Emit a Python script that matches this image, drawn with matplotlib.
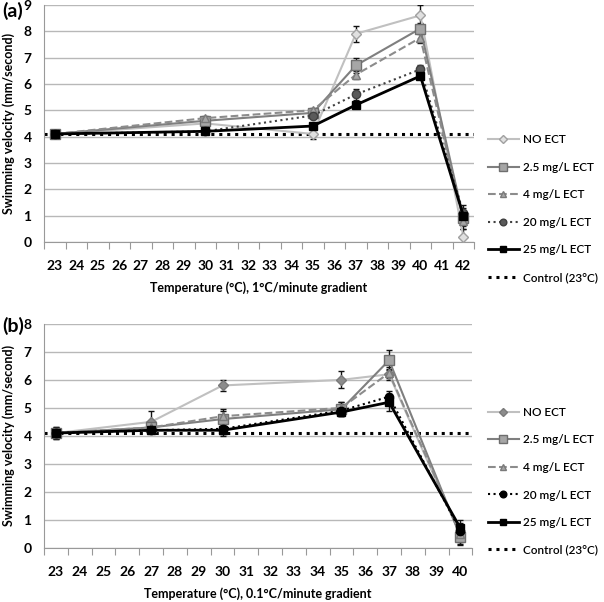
import numpy as np
import matplotlib
matplotlib.use("Agg")
import matplotlib.pyplot as plt

plt.rcParams['font.family'] = ['Lato', 'DejaVu Sans']

# ---------------- data ----------------
CATS_A = list(range(23, 43))
TEMPS_A = [23, 30, 35, 37, 40, 42]
NO_ECT_A = [4.1, 4.5, 4.1, 7.9, 8.6, 0.2]
ECT25_A = [4.1, 4.6, 4.9, 6.7, 8.1, 0.9]
ECT4_A = [4.1, 4.7, 5.0, 6.35, 7.75, 0.8]
ECT20_A = [4.1, 4.2, 4.8, 5.6, 6.55, 1.1]
ECT250_A = [4.1, 4.2, 4.4, 5.2, 6.3, 1.0]
ERR_NO_A = [0.08, 0.1, 0.2, 0.3, 0.4, 0.3]
ERR_25_A = [0.08, 0.1, 0.15, 0.3, 0.2, 0.3]
ERR_4_A = [0.05, 0.08, 0.1, 0.15, 0.2, 0.3]
ERR_20_A = [0.05, 0.08, 0.1, 0.2, 0.15, 0.3]
ERR_250_A = [0.05, 0.08, 0.1, 0.1, 0.1, 0.3]
CONTROL_A = 4.1

CATS_B = list(range(23, 41))
TEMPS_B = [23, 27, 30, 35, 37, 40]
NO_ECT_B = [4.1, 4.5, 5.8, 6.0, 6.2, 0.45]
ECT25_B = [4.1, 4.3, 4.6, 4.95, 6.7, 0.4]
ECT4_B = [4.1, 4.3, 4.7, 5.0, 6.25, 0.5]
ECT20_B = [4.1, 4.2, 4.25, 4.9, 5.4, 0.6]
ECT250_B = [4.1, 4.2, 4.2, 4.85, 5.2, 0.7]
ERR_NO_B = [0.2, 0.4, 0.2, 0.3, 0.2, 0.3]
ERR_25_B = [0.2, 0.1, 0.3, 0.25, 0.35, 0.3]
ERR_4_B = [0.1, 0.1, 0.25, 0.2, 0.2, 0.3]
ERR_20_B = [0.1, 0.1, 0.2, 0.2, 0.2, 0.3]
ERR_250_B = [0.1, 0.1, 0.2, 0.15, 0.3, 0.3]
CONTROL_B = 4.1

LABELS = ['NO ECT', '2.5 mg/L ECT', '4 mg/L ECT', '20 mg/L ECT', '25 mg/L ECT', 'Control (23°C)']

# line colour, marker, marker face, marker edge, linestyle
STYLES_A = [
    ('#c0c0c0', 'D', '#e0e0e0', '#a0a0a0', '-'),
    ('#7f7f7f', 's', '#a6a6a6', '#6e6e6e', '-'),
    ('#8c8c8c', '^', '#a6a6a6', '#7a7a7a', '--'),
    ('#404040', 'o', '#5a5a5a', '#404040', ':'),
    ('#000000', 's', '#000000', '#000000', '-'),
]
STYLES_B = [
    ('#c0c0c0', 'D', '#8c8c8c', '#7a7a7a', '-'),
    ('#7f7f7f', 's', '#a6a6a6', '#6e6e6e', '-'),
    ('#8c8c8c', '^', '#a6a6a6', '#7a7a7a', '--'),
    ('#000000', 'o', '#000000', '#000000', ':'),
    ('#000000', 's', '#000000', '#000000', '-'),
]
MSIZES = [5, 7, 6, 6, 6]


def draw_panel(ax, cats, temps, series, errs, control, styles, ymax, xtitle, fig, legend_y):
    pos = [cats.index(t) for t in temps]
    handles = []
    for vals, err, st, ms, lab in zip(series, errs, styles, MSIZES, LABELS):
        col, mk, mfc, mec, ls = st
        lw = 2.0 if col == '#000000' and ls == '-' else 1.5
        ax.errorbar(pos, vals, yerr=err, fmt='none', ecolor='#111111',
                    elinewidth=1.0, capsize=2.5, capthick=1.0, zorder=2)
        h, = ax.plot(pos, vals, color=col, linestyle=ls, linewidth=lw,
                     marker=mk, markersize=ms, markerfacecolor=mfc,
                     markeredgecolor=mec, label=lab, zorder=3)
        handles.append(h)
    hc = ax.axhline(control, color='black', linestyle=(0, (1, 1.6)),
                    linewidth=2.2, label=LABELS[5], zorder=2.5)
    handles.append(hc)

    ax.set_xlim(-0.5, len(cats) - 0.5)
    ax.set_ylim(0, ymax)
    ax.set_yticks(range(0, ymax + 1))
    ax.set_yticklabels([str(v) for v in range(0, ymax + 1)],
                       fontsize=10, fontweight='bold')
    ax.tick_params(axis='y', length=0, pad=9)
    ax.grid(axis='y', color='#b8b8b8', linewidth=1.0)
    ax.set_axisbelow(True)

    ax.set_xticks(np.arange(-0.5, len(cats), 1.0))
    ax.set_xticklabels([])
    ax.tick_params(axis='x', which='major', length=5, color='#999999', direction='out')
    ax.set_xticks(range(len(cats)), minor=True)
    ax.set_xticklabels([str(c) for c in cats], minor=True,
                       fontsize=10, fontweight='bold')
    ax.tick_params(axis='x', which='minor', length=0, pad=13)

    for s in ['top', 'right']:
        ax.spines[s].set_visible(False)
    ax.spines['left'].set_color('#999999')
    ax.spines['bottom'].set_color('#999999')

    ax.set_xlabel(xtitle, fontsize=9, fontweight='bold', labelpad=7)
    ax.set_ylabel('Swimming velocity (mm/second)', fontsize=9,
                  fontweight='bold', labelpad=6)

    leg = fig.legend(handles=handles, loc='upper left',
                     bbox_to_anchor=(0.808, legend_y), frameon=False,
                     fontsize=8.5, handlelength=2.6, labelspacing=1.4,
                     handletextpad=0.4, borderpad=0, borderaxespad=0,
                     markerscale=0.8)
    for t in leg.get_texts():
        t.set_fontweight('semibold')
    return leg


fig = plt.figure(figsize=(6.04, 6.02), dpi=100)
ax_a = fig.add_axes([0.073, 0.598, 0.712, 0.394])
ax_b = fig.add_axes([0.073, 0.090, 0.709, 0.372])

draw_panel(ax_a, CATS_A, TEMPS_A,
           [NO_ECT_A, ECT25_A, ECT4_A, ECT20_A, ECT250_A],
           [ERR_NO_A, ERR_25_A, ERR_4_A, ERR_20_A, ERR_250_A],
           CONTROL_A, STYLES_A, 9,
           'Temperature (°C), 1°C/minute gradient', fig, 0.777)
draw_panel(ax_b, CATS_B, TEMPS_B,
           [NO_ECT_B, ECT25_B, ECT4_B, ECT20_B, ECT250_B],
           [ERR_NO_B, ERR_25_B, ERR_4_B, ERR_20_B, ERR_250_B],
           CONTROL_B, STYLES_B, 8,
           'Temperature (°C), 0.1°C/minute gradient', fig, 0.324)

fig.text(0.003, 0.982, '(a)', fontsize=14, fontweight='bold', va='center')
fig.text(0.003, 0.458, '(b)', fontsize=14, fontweight='bold', va='center')

fig.savefig('out.png', dpi=100)
